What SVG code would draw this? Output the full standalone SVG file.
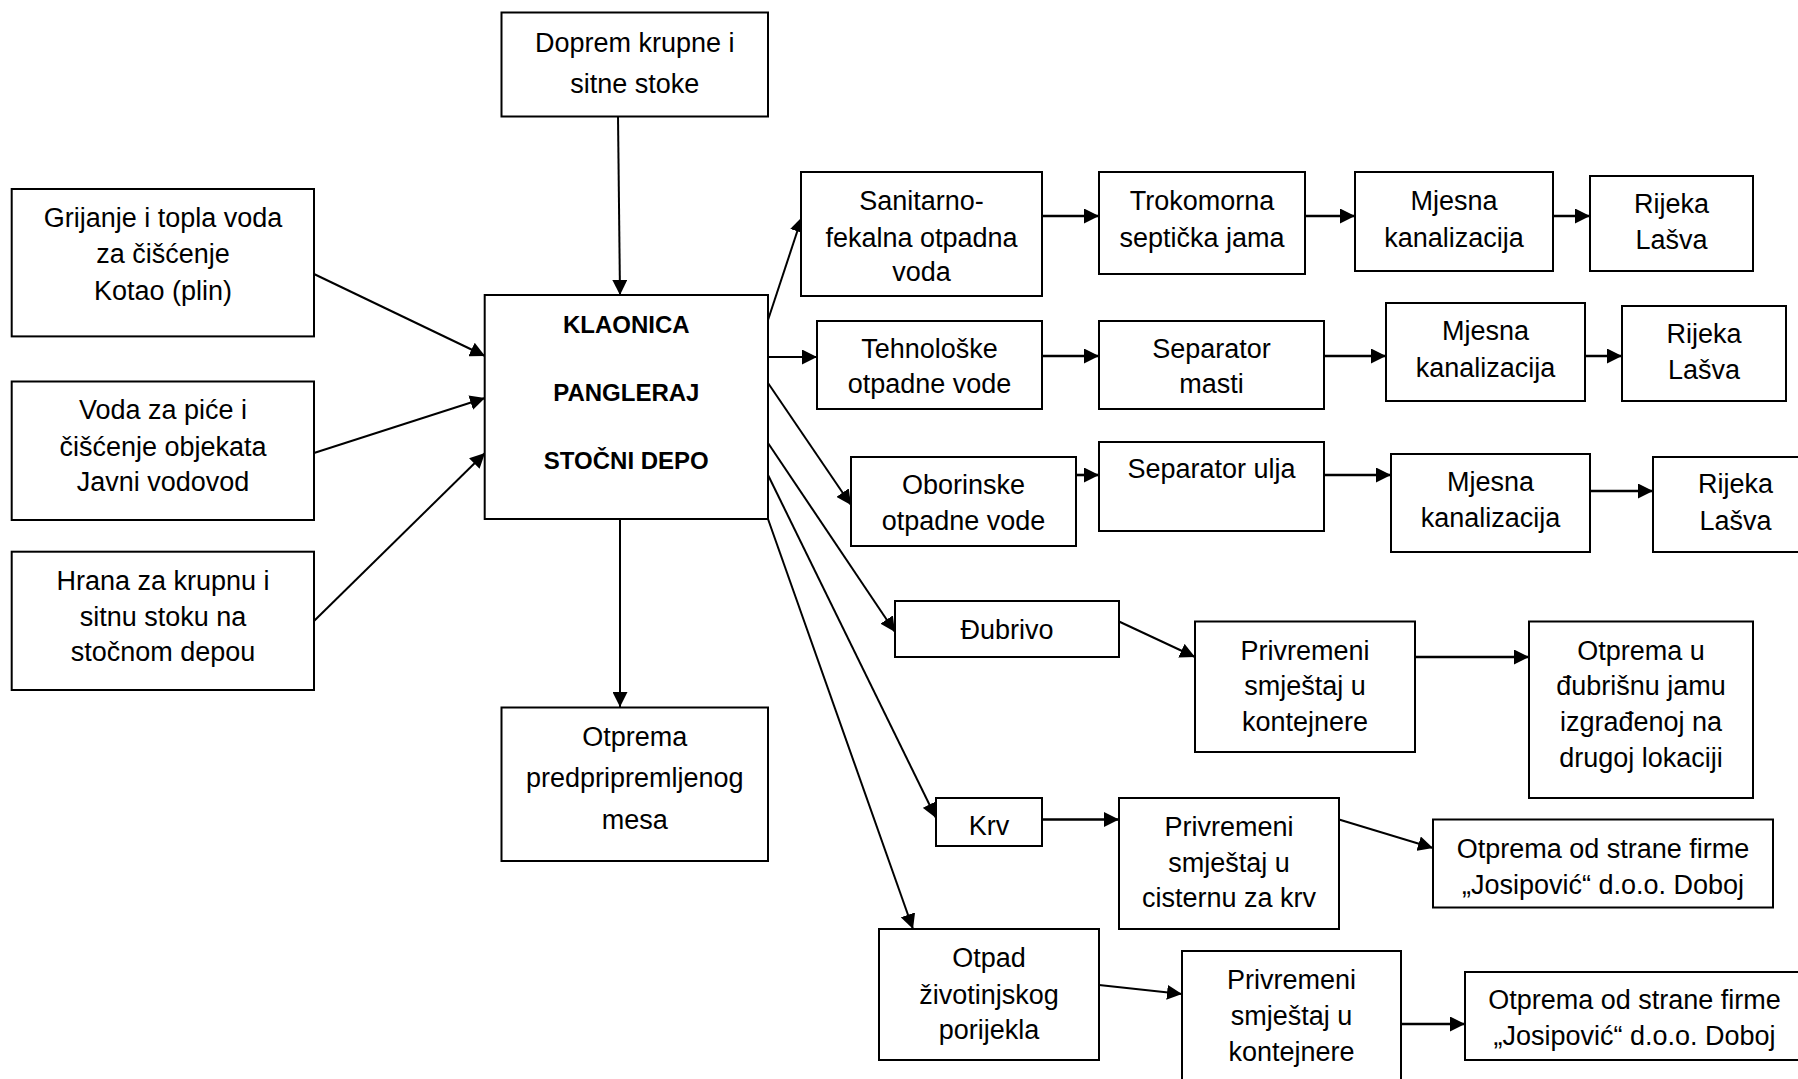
<svg xmlns="http://www.w3.org/2000/svg" width="1798" height="1079" viewBox="0 0 1798 1079">
<style>
.box{fill:#fff;stroke:#000;stroke-width:2}
.t{font-family:"Liberation Sans",Arial,sans-serif;font-size:27px;text-anchor:middle;fill:#000}
.b{font-family:"Liberation Sans",Arial,sans-serif;font-size:24px;font-weight:bold;text-anchor:middle;fill:#000}
.c{stroke:#000;stroke-width:2;fill:none;marker-end:url(#ah)}
.h{stroke-width:2.6}
</style>
<defs>
<marker id="ah" markerUnits="userSpaceOnUse" markerWidth="15" markerHeight="15" refX="15" refY="7.5" orient="auto">
<path d="M0,0 L15,7.5 L0,15 z" fill="#000"/>
</marker>
</defs>
<rect width="1798" height="1079" fill="#fff"/>
<g id="connectors">
<line class="c" x1="618" y1="116" x2="620" y2="295"/>
<line class="c" x1="314" y1="274" x2="485" y2="356"/>
<line class="c" x1="314" y1="453" x2="485" y2="398"/>
<line class="c" x1="314" y1="621" x2="485" y2="453"/>
<line class="c" x1="620" y1="519" x2="620" y2="707"/>
<line class="c" x1="768" y1="320" x2="802" y2="217"/>
<line class="c" x1="768" y1="357" x2="817" y2="357"/>
<line class="c" x1="768" y1="383" x2="851" y2="505"/>
<line class="c" x1="768" y1="443" x2="895" y2="632"/>
<line class="c" x1="768" y1="475" x2="936" y2="818"/>
<line class="c" x1="768" y1="519" x2="913" y2="929"/>
<line class="c h" x1="1042" y1="216" x2="1099" y2="216"/>
<line class="c h" x1="1305" y1="216" x2="1355" y2="216"/>
<line class="c h" x1="1553" y1="216" x2="1590" y2="216"/>
<line class="c h" x1="1042" y1="356" x2="1099" y2="356"/>
<line class="c h" x1="1324" y1="356" x2="1386" y2="356"/>
<line class="c h" x1="1585" y1="356" x2="1622" y2="356"/>
<line class="c h" x1="1076" y1="475" x2="1099" y2="475"/>
<line class="c h" x1="1324" y1="475" x2="1391" y2="475"/>
<line class="c h" x1="1590" y1="491" x2="1653" y2="491"/>
<line class="c" x1="1119" y1="621.5" x2="1195" y2="657"/>
<line class="c h" x1="1415" y1="657" x2="1529" y2="657"/>
<line class="c h" x1="1042" y1="819.5" x2="1119" y2="819.5"/>
<line class="c" x1="1339" y1="819.5" x2="1433" y2="848"/>
<line class="c" x1="1099" y1="985" x2="1182" y2="994"/>
<line class="c h" x1="1401" y1="1024" x2="1465" y2="1024"/>
</g>
<g id="doprem"><rect class="box" x="501.5" y="12.5" width="266.5" height="104"/>
<text class="t" x="634.75" y="51.6">Doprem krupne i</text><text class="t" x="634.75" y="93">sitne stoke</text></g>
<g id="grijanje"><rect class="box" x="11.7" y="189" width="302.3" height="147.4"/>
<text class="t" x="163" y="227">Grijanje i topla voda</text><text class="t" x="163" y="263.4">za čišćenje</text><text class="t" x="163" y="299.6">Kotao (plin)</text></g>
<g id="voda"><rect class="box" x="11.7" y="381.5" width="302.3" height="138.5"/>
<text class="t" x="163" y="419.4">Voda za piće i</text><text class="t" x="163" y="455.6">čišćenje objekata</text><text class="t" x="163" y="491.4">Javni vodovod</text></g>
<g id="hrana"><rect class="box" x="11.7" y="551.7" width="302.3" height="138.3"/>
<text class="t" x="163" y="589.7">Hrana za krupnu i</text><text class="t" x="163" y="625.6">sitnu stoku na</text><text class="t" x="163" y="661.4">stočnom depou</text></g>
<g id="klaonica"><rect class="box" x="484.7" y="295" width="283.3" height="224"/>
<text class="b" x="626.3" y="333">KLAONICA</text><text class="b" x="626.3" y="401">PANGLERAJ</text><text class="b" x="626.3" y="469">STOČNI DEPO</text></g>
<g id="otprema-mesa"><rect class="box" x="501.5" y="707.5" width="266.5" height="153.5"/>
<text class="t" x="634.75" y="745.6">Otprema</text><text class="t" x="634.75" y="787.3">predpripremljenog</text><text class="t" x="634.75" y="828.7">mesa</text></g>
<g id="sanitarno"><rect class="box" x="801" y="172" width="241" height="124"/>
<text class="t" x="921.5" y="210">Sanitarno-</text><text class="t" x="921.5" y="246.5">fekalna otpadna</text><text class="t" x="921.5" y="281">voda</text></g>
<g id="trokomorna"><rect class="box" x="1099" y="172" width="206" height="102"/>
<text class="t" x="1202" y="210">Trokomorna</text><text class="t" x="1202" y="246.5">septička jama</text></g>
<g id="mjesna1"><rect class="box" x="1355" y="172" width="198" height="99"/>
<text class="t" x="1454" y="210">Mjesna</text><text class="t" x="1454" y="246.5">kanalizacija</text></g>
<g id="rijeka1"><rect class="box" x="1590" y="176" width="163" height="95"/>
<text class="t" x="1671.5" y="213">Rijeka</text><text class="t" x="1671.5" y="249">Lašva</text></g>
<g id="tehnoloske"><rect class="box" x="817" y="321" width="225" height="88"/>
<text class="t" x="929.5" y="358">Tehnološke</text><text class="t" x="929.5" y="393">otpadne vode</text></g>
<g id="separator-masti"><rect class="box" x="1099" y="321" width="225" height="88"/>
<text class="t" x="1211.5" y="358">Separator</text><text class="t" x="1211.5" y="393">masti</text></g>
<g id="mjesna2"><rect class="box" x="1386" y="303" width="199" height="98"/>
<text class="t" x="1485.5" y="340">Mjesna</text><text class="t" x="1485.5" y="377">kanalizacija</text></g>
<g id="rijeka2"><rect class="box" x="1622" y="306" width="164" height="95"/>
<text class="t" x="1704" y="343">Rijeka</text><text class="t" x="1704" y="379">Lašva</text></g>
<g id="oborinske"><rect class="box" x="851" y="457" width="225" height="89"/>
<text class="t" x="963.5" y="494">Oborinske</text><text class="t" x="963.5" y="530">otpadne vode</text></g>
<g id="separator-ulja"><rect class="box" x="1099" y="442" width="225" height="89"/>
<text class="t" x="1211.5" y="478">Separator ulja</text></g>
<g id="mjesna3"><rect class="box" x="1391" y="454" width="199" height="98"/>
<text class="t" x="1490.5" y="491">Mjesna</text><text class="t" x="1490.5" y="527">kanalizacija</text></g>
<g id="rijeka3"><rect class="box" x="1653" y="457" width="165" height="95"/>
<text class="t" x="1735.5" y="493">Rijeka</text><text class="t" x="1735.5" y="530">Lašva</text></g>
<g id="dubrivo"><rect class="box" x="895" y="601" width="224" height="56"/>
<text class="t" x="1007" y="638.7">Đubrivo</text></g>
<g id="privremeni1"><rect class="box" x="1195" y="621.5" width="220" height="130.5"/>
<text class="t" x="1305" y="660">Privremeni</text><text class="t" x="1305" y="695">smještaj u</text><text class="t" x="1305" y="731">kontejnere</text></g>
<g id="otprema-dubrisnu"><rect class="box" x="1529" y="621.5" width="224" height="176.5"/>
<text class="t" x="1641" y="660">Otprema u</text><text class="t" x="1641" y="695">đubrišnu jamu</text><text class="t" x="1641" y="731">izgrađenoj na</text><text class="t" x="1641" y="767">drugoj lokaciji</text></g>
<g id="krv"><rect class="box" x="936" y="798" width="106" height="48"/>
<text class="t" x="989" y="835">Krv</text></g>
<g id="privremeni2"><rect class="box" x="1119" y="798" width="220" height="131"/>
<text class="t" x="1229" y="835.6">Privremeni</text><text class="t" x="1229" y="871.7">smještaj u</text><text class="t" x="1229" y="907">cisternu za krv</text></g>
<g id="josipovic1"><rect class="box" x="1433" y="819.5" width="340" height="88"/>
<text class="t" x="1603" y="858">Otprema od strane firme</text><text class="t" x="1603" y="894">„Josipović“ d.o.o. Doboj</text></g>
<g id="otpad"><rect class="box" x="879" y="929" width="220" height="131"/>
<text class="t" x="989" y="967">Otpad</text><text class="t" x="989" y="1004">životinjskog</text><text class="t" x="989" y="1038.5">porijekla</text></g>
<g id="privremeni3"><rect class="box" x="1182" y="951" width="219" height="131"/>
<text class="t" x="1291.5" y="988.6">Privremeni</text><text class="t" x="1291.5" y="1024.7">smještaj u</text><text class="t" x="1291.5" y="1060.8">kontejnere</text></g>
<g id="josipovic2"><rect class="box" x="1465" y="972" width="339" height="88"/>
<text class="t" x="1634.5" y="1009">Otprema od strane firme</text><text class="t" x="1634.5" y="1045">„Josipović“ d.o.o. Doboj</text></g>
</svg>
